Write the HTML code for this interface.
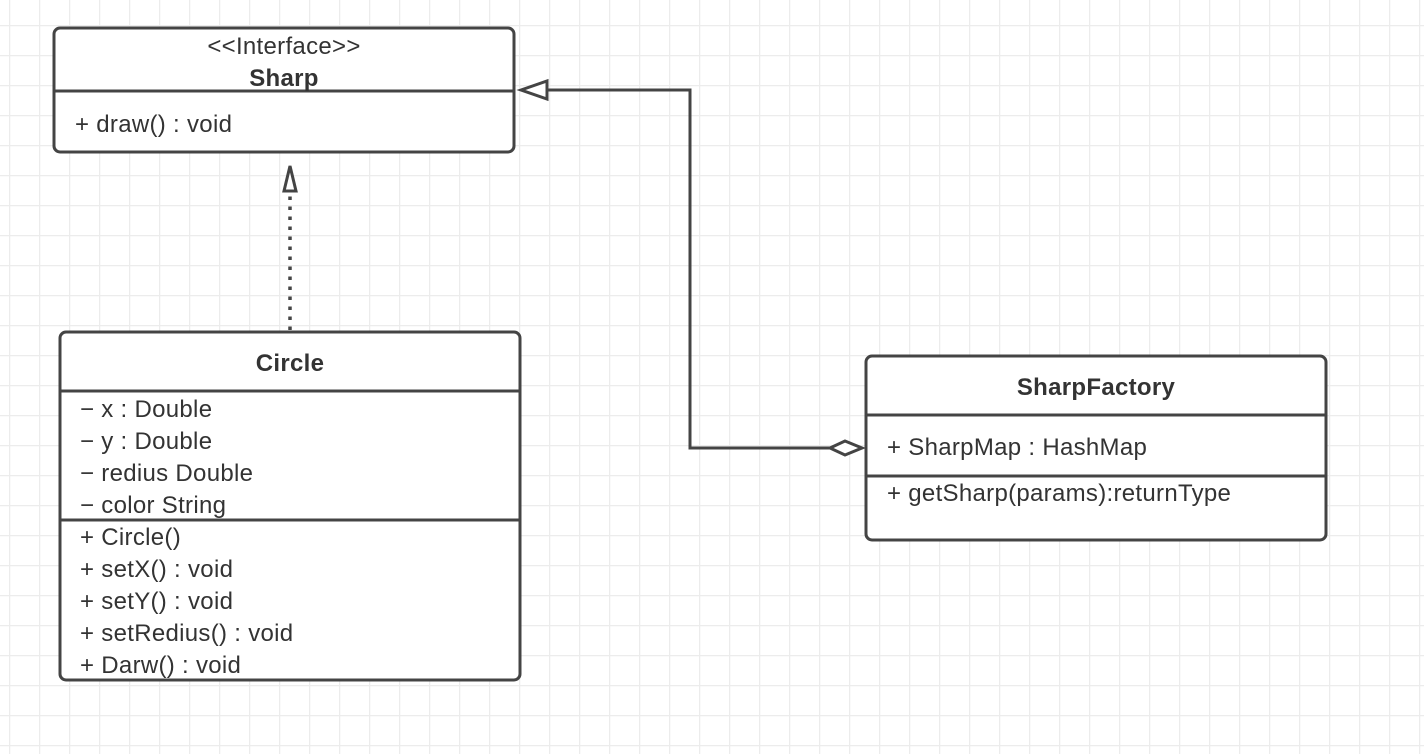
<!DOCTYPE html>
<html><head><meta charset="utf-8"><style>
html,body{margin:0;padding:0;background:#fff;}
svg{display:block;}
text{font-family:"Liberation Sans","Noto Sans CJK SC",sans-serif;font-size:24px;fill:#333;letter-spacing:0.3px;}
.b{font-weight:bold;}
</style></head><body>
<svg width="1424" height="754" viewBox="0 0 1424 754" xmlns="http://www.w3.org/2000/svg">
<defs>
<pattern id="g" x="9" y="25" width="30" height="30" patternUnits="userSpaceOnUse">
<path d="M0.5 0V30M0 0.5H30" stroke="#ececec" stroke-width="1.5" fill="none"/>
</pattern>
</defs>
<rect width="1424" height="754" fill="#fff"/>
<rect width="1424" height="754" fill="url(#g)"/>

<g fill="#fff" stroke="#444" stroke-width="3">
<rect x="54" y="28" width="460" height="124" rx="6"/>
<line x1="54" y1="91" x2="514" y2="91"/>
<rect x="60" y="332" width="460" height="348" rx="6"/>
<line x1="60" y1="391" x2="520" y2="391"/>
<line x1="60" y1="520" x2="520" y2="520"/>
<rect x="866" y="356" width="460" height="184" rx="6"/>
<line x1="866" y1="415" x2="1326" y2="415"/>
<line x1="866" y1="476" x2="1326" y2="476"/>
</g>

<text x="284" y="54" text-anchor="middle">&lt;&lt;Interface&gt;&gt;</text>
<text x="284" y="86" text-anchor="middle" class="b">Sharp</text>
<text x="75" y="132">+ draw() : void</text>

<text x="290" y="371" text-anchor="middle" class="b">Circle</text>
<text x="80" y="417">− x : Double</text>
<text x="80" y="449">− y : Double</text>
<text x="80" y="481">− redius Double</text>
<text x="80" y="513">− color String</text>
<text x="80" y="545">+ Circle()</text>
<text x="80" y="577">+ setX() : void</text>
<text x="80" y="609">+ setY() : void</text>
<text x="80" y="641">+ setRedius() : void</text>
<text x="80" y="673">+ Darw() : void</text>

<text x="1096" y="395" text-anchor="middle" class="b">SharpFactory</text>
<text x="887" y="455">+ SharpMap : HashMap</text>
<text x="887" y="501">+ getSharp(params):returnType</text>

<line x1="290" y1="330" x2="290" y2="194" stroke="#444" stroke-width="3.5" stroke-dasharray="3.5 6.5"/>
<polygon points="290,166 284,191 296,191" fill="#fff" stroke="#444" stroke-width="3"/>

<polyline points="830,448 690,448 690,90 547,90" fill="none" stroke="#444" stroke-width="3"/>
<polygon points="521,90 547,81 547,99" fill="#fff" stroke="#444" stroke-width="3"/>
<polygon points="830,448 845,441 862,448 845,455" fill="#fff" stroke="#444" stroke-width="3"/>
</svg>
</body></html>
